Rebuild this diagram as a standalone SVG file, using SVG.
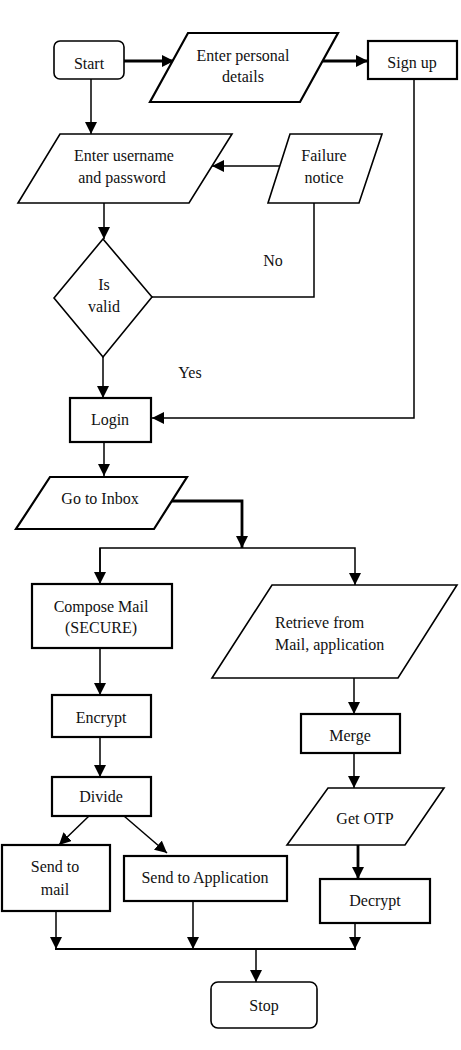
<svg xmlns="http://www.w3.org/2000/svg" width="461" height="1050" viewBox="0 0 461 1050">
<style>
.bg{fill:#fff}
.n{fill:#fff;stroke:#000;stroke-width:1.6}
.nb{fill:#fff;stroke:#000;stroke-width:2.2}
.t{font-family:"Liberation Serif","Times New Roman",serif;font-size:16px;fill:#111;text-anchor:middle}
.l{text-anchor:start}
.c{fill:none;stroke:#000;stroke-width:1.5}
.ck{fill:none;stroke:#000;stroke-width:2.8}
</style>
<defs>
<marker id="ah" markerUnits="userSpaceOnUse" markerWidth="12" markerHeight="12" viewBox="0 0 12 12" refX="12" refY="6" orient="auto">
<path d="M0,0 L12,6 L0,12 Z" fill="#000"/>
</marker>
</defs>
<rect class="bg" x="0" y="0" width="461" height="1050"/>
<g id="connectors">
<path class="ck" d="M124,61 H174" marker-end="url(#ah)"/>
<path class="ck" d="M323,61 H368" marker-end="url(#ah)"/>
<path class="c" d="M91,79 V134" marker-end="url(#ah)"/>
<path class="c" d="M414,79 V418 H152" marker-end="url(#ah)"/>
<path class="c" d="M280,166 H212" marker-end="url(#ah)"/>
<path class="c" d="M104,203 V239" marker-end="url(#ah)"/>
<path class="c" d="M314,203 V297 H152"/>
<path class="c" d="M103,357 V398" marker-end="url(#ah)"/>
<path class="c" d="M104,442 V476" marker-end="url(#ah)"/>
<path class="ck" d="M170,501 H242 V548" marker-end="url(#ah)"/>
<path class="c" d="M100,584 V548 H355 V585" marker-end="url(#ah)"/>
<path class="c" d="M100,548 V584" marker-end="url(#ah)"/>
<path class="c" d="M100,648 V695" marker-end="url(#ah)"/>
<path class="c" d="M100,737 V777" marker-end="url(#ah)"/>
<path class="c" d="M89,816 L59,845" marker-end="url(#ah)"/>
<path class="c" d="M124,816 L167,853" marker-end="url(#ah)"/>
<path class="c" d="M354,678 V714" marker-end="url(#ah)"/>
<path class="c" d="M354,753 V788" marker-end="url(#ah)"/>
<path class="ck" d="M358,845 V879" marker-end="url(#ah)"/>
<path class="c" d="M56,911 V949" marker-end="url(#ah)"/>
<path class="c" d="M193,901 V949" marker-end="url(#ah)"/>
<path class="c" d="M355,923 V949" marker-end="url(#ah)"/>
<path class="ck" d="M55,949 H356" style="stroke-width:2"/>
<path class="c" d="M256,949 V982" marker-end="url(#ah)"/>
</g>
<g id="start"><rect class="n" x="54" y="41" width="70" height="38" rx="6"/><text class="t" x="89" y="69">Start</text></g>
<g id="personal"><path class="nb" d="M188,33 H338 L300,102 H150 Z"/><text class="t" x="243" y="61">Enter personal</text><text class="t" x="243" y="82">details</text></g>
<g id="signup"><rect class="nb" x="368" y="41" width="89" height="38"/><text class="t" x="412" y="68">Sign up</text></g>
<g id="credentials"><path class="n" d="M60,134 H232 L189,203 H18 Z"/><text class="t" x="124" y="161">Enter username</text><text class="t" x="122" y="183">and password</text></g>
<g id="failure"><path class="n" d="M290,134 H382 L359,203 H268 Z"/><text class="t" x="324" y="161">Failure</text><text class="t" x="324" y="183">notice</text></g>
<g id="valid"><path class="n" d="M103,239 L152,297 L103,357 L54,298 Z"/><text class="t" x="104" y="290">Is</text><text class="t" x="104" y="312">valid</text></g>
<g id="labels"><text class="t" x="273" y="266">No</text><text class="t" x="190" y="378">Yes</text></g>
<g id="login"><rect class="nb" x="70" y="398" width="81" height="44"/><text class="t" x="110" y="425">Login</text></g>
<g id="inbox"><path class="nb" d="M50,477 H187 L154,529 H16 Z"/><text class="t" x="100" y="504">Go to Inbox</text></g>
<g id="compose"><rect class="nb" x="32" y="584" width="140" height="64"/><text class="t" x="101" y="612">Compose Mail</text><text class="t" x="101" y="633">(SECURE)</text></g>
<g id="retrieve"><path class="n" d="M272,585 H457 L398,678 H212 Z"/><text class="t l" x="275" y="628">Retrieve from</text><text class="t l" x="275" y="650">Mail, application</text></g>
<g id="encrypt"><rect class="nb" x="52" y="695" width="99" height="42"/><text class="t" x="101" y="723">Encrypt</text></g>
<g id="divide"><rect class="nb" x="52" y="777" width="99" height="39"/><text class="t" x="101" y="802">Divide</text></g>
<g id="merge"><rect class="nb" x="301" y="714" width="99" height="39"/><text class="t" x="350" y="741">Merge</text></g>
<g id="otp"><path class="n" d="M328,788 H444 L405,845 H287 Z"/><text class="t" x="365" y="824">Get OTP</text></g>
<g id="sendmail"><rect class="nb" x="2" y="845" width="108" height="66"/><text class="t" x="55" y="872">Send to</text><text class="t" x="55" y="895">mail</text></g>
<g id="sendapp"><rect class="nb" x="124" y="856" width="163" height="45"/><text class="t" x="205" y="883">Send to Application</text></g>
<g id="decrypt"><rect class="nb" x="320" y="879" width="110" height="44"/><text class="t" x="375" y="906">Decrypt</text></g>
<g id="stop"><rect class="n" x="211" y="982" width="106" height="46" rx="7"/><text class="t" x="264" y="1011">Stop</text></g>
</svg>
